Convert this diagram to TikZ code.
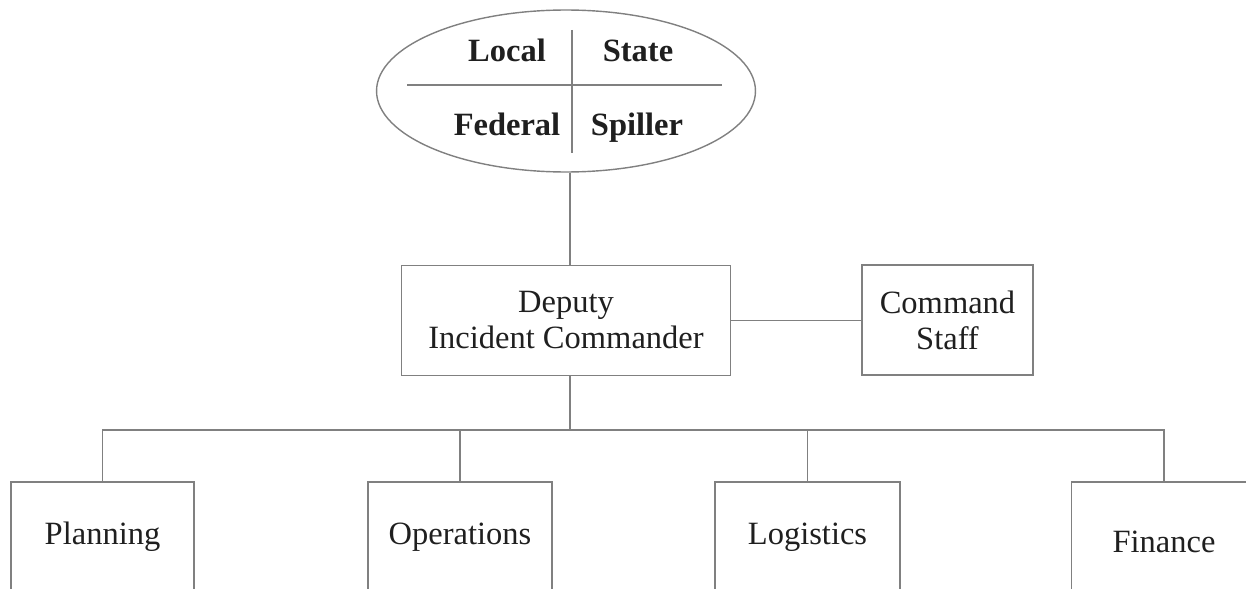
\documentclass[tikz,border=0pt]{standalone}
\usepackage{fontspec}
\setmainfont{Liberation Serif}
\usepackage{xcolor}
\usepackage{tikz}
\usetikzlibrary{positioning, shapes.geometric, calc}

\definecolor{linegray}{gray}{0.5}
\definecolor{textgray}{gray}{0.12}

\begin{document}
\begin{tikzpicture}[
    x=0.02cm, y=-0.02cm,
    every node/.style={align=center, text=textgray},
    box/.style={rectangle, draw=linegray, line width=0.8pt, minimum height=2.2cm,
        font=\fontsize{18.5}{20.5}\selectfont},
    agency/.style={font=\bfseries\fontsize{18.5}{20}\selectfont, anchor=base},
    link/.style={draw=linegray, line width=0.8pt}
]
    \useasboundingbox (0,0) rectangle (1246,588);
    \clip (0,0) rectangle (1246,588);

    % unified command
    \node[ellipse, draw=linegray, line width=0.8pt, minimum width=7.58cm, minimum height=3.24cm] (uc) at (566,91) {};
    \draw[link] (407,85) -- (722,85);
    \draw[link] (572,30) -- (572,153);
    \node[agency] (local) at (507,62) {Local};
    \node[agency] (state) at (638,62) {State};
    \node[agency] (federal) at (507,135) {Federal};
    \node[agency] (spiller) at (637,135) {Spiller};

    \node[box, minimum width=6.58cm] (deputy) at (566,320.5) {Deputy\\Incident Commander};
    \node[box, minimum width=3.42cm] (staff) at (947.5,320) {Command\\Staff};

    % sections
    \node[box, minimum width=3.66cm] (plan) at (102.5,537) {Planning};
    \node[box, minimum width=3.68cm] (ops) at (460,537) {Operations};
    \node[box, minimum width=3.7cm] (log) at (807.5,537) {Logistics};
    \node[box, minimum width=3.7cm, minimum height=2.4cm] (fin) at (1164,542) {Finance};

    \coordinate (stem) at (570,0);
    \coordinate (bus) at (570,430);

    \draw[link] (uc.south -| stem) -- (stem |- deputy.north);
    \draw[link] (deputy.east) -- (deputy.east -| staff.west);
    \draw[link] (stem |- deputy.south) -- (bus);
    \draw[link] (plan.north) -- (plan.north |- bus) -| (fin.north);
    \draw[link] (ops.north) -- (ops.north |- bus);
    \draw[link] (log.north) -- (log.north |- bus);
\end{tikzpicture}
\end{document}
